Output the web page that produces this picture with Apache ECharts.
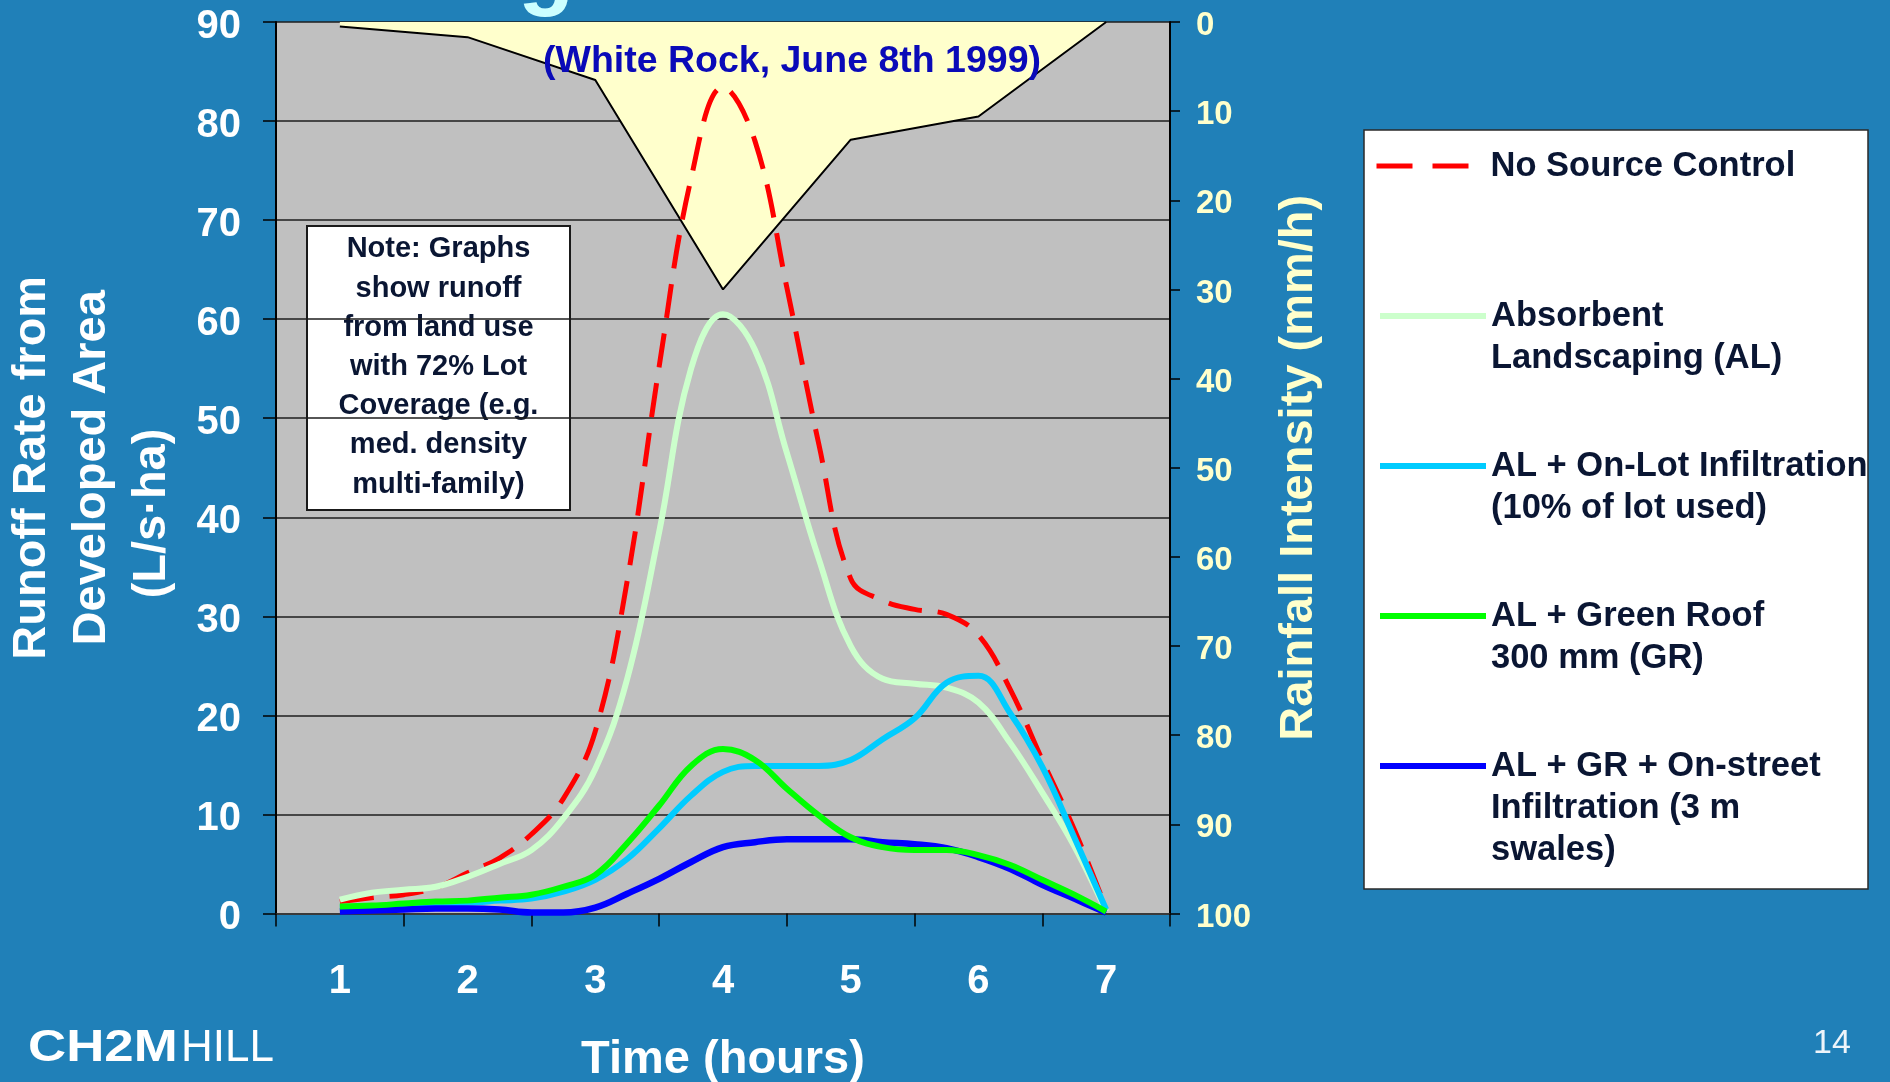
<!DOCTYPE html>
<html>
<head>
<meta charset="utf-8">
<script src="https://cdn.jsdelivr.net/npm/echarts@6/dist/echarts.min.js"></script>
<style>
html,body{margin:0;padding:0;background:#2080b8;}
#c{width:1890px;height:1082px;}
</style>
</head>
<body>
<div id="c"></div>
<script>
// ---------------- data ----------------
const hourLabels = ['1', '2', '3', '4', '5', '6', '7'];
const leftTicks = [0, 10, 20, 30, 40, 50, 60, 70, 80, 90];
const rightTicks = [0, 10, 20, 30, 40, 50, 60, 70, 80, 90, 100];

// time (hours) of the runoff samples
const times = [1, 1.25, 1.5, 1.75, 2, 2.25, 2.5, 2.75, 3, 3.25, 3.5, 3.75, 4,
               4.25, 4.5, 4.75, 5, 5.25, 5.5, 5.75, 6, 6.25, 6.5, 6.75, 7];

// runoff rate (L/s·ha)
const noSourceControl = [1.2, 1.6, 1.9, 2.6, 4.1, 5.6, 8.0, 11.6, 18.4, 33.6, 55.2, 74.2, 83.4,
                         78.0, 63.2, 47.4, 33.8, 31.6, 30.7, 30.2, 28.1, 22.6, 15.5, 8.5, 0.5];
const absorbentLandscaping = [1.4, 2.1, 2.4, 2.7, 3.7, 5.0, 6.4, 9.6, 14.6, 23.7, 38.5, 55.0, 60.5,
                              56.9, 46.5, 35.8, 27.0, 23.7, 23.2, 22.8, 21.3, 17.2, 12.2, 6.8, 0.2];
const onLotInfiltration = [0.6, 0.7, 0.9, 1.0, 1.1, 1.3, 1.5, 2.2, 3.4, 5.5, 8.6, 11.9, 14.3,
                           14.9, 14.9, 14.9, 15.5, 17.6, 19.7, 23.3, 24.0, 20.2, 14.8, 7.7, 0.4];
const greenRoof = [0.7, 0.8, 1.0, 1.2, 1.3, 1.6, 1.9, 2.7, 3.9, 7.1, 10.9, 14.9, 16.6,
                   15.5, 12.6, 9.9, 7.7, 6.7, 6.4, 6.4, 5.9, 4.9, 3.4, 1.9, 0.2];
const onStreetInfiltration = [0.2, 0.3, 0.4, 0.5, 0.5, 0.4, 0.1, 0.1, 0.6, 2.0, 3.5, 5.2, 6.7,
                              7.2, 7.5, 7.5, 7.5, 7.2, 7.0, 6.6, 5.7, 4.5, 2.9, 1.5, 0.1];

// rainfall intensity (mm/h), hourly
const rainTimes = [1, 2, 3, 4, 5, 6, 7];
const rainfall = [0.5, 1.7, 6.5, 30, 13.2, 10.6, 0];

const seriesNames = [
  'No Source Control',
  'Absorbent Landscaping (AL)',
  'AL + On-Lot Infiltration (10% of lot used)',
  'AL + Green Roof 300 mm (GR)',
  'AL + GR + On-street Infiltration (3 m swales)'
];
const legendLines = [
  ['No Source Control'],
  ['Absorbent', 'Landscaping (AL)'],
  ['AL + On-Lot Infiltration', '(10% of lot used)'],
  ['AL + Green Roof', '300 mm (GR)'],
  ['AL + GR + On-street', 'Infiltration (3 m', 'swales)']
];
const noteLines = ['Note: Graphs', 'show runoff', 'from land use', 'with 72% Lot',
                   'Coverage (e.g.', 'med. density', 'multi-family)'];

// ---------------- chart ----------------
const FONT = "'Liberation Sans', Arial, Helvetica, sans-serif";
const NAVY = '#0a1633';
const chart = echarts.init(document.getElementById('c'), null, {renderer: 'canvas'});

function pairs(xs, ys) { return xs.map((x, i) => [x, ys[i]]); }

function runoff(name, ys, color, width, dash, z) {
  return {
    name: name, type: 'line', xAxisIndex: 1, yAxisIndex: 0,
    data: pairs(times, ys), smooth: 0.4, symbol: 'none',
    lineStyle: {color: color, width: width, type: dash || 'solid', cap: 'butt'},
    itemStyle: {color: color}, z: z, silent: true
  };
}

const legendCenters = [166, 316, 466, 616, 766];
const LH = 42;
const legends = seriesNames.map((nm, i) => {
  const n = legendLines[i].length;
  const L = 2 * n - 1;
  return {
    data: [nm], orient: 'vertical',
    left: i === 0 ? 1374 : 1377,
    top: legendCenters[i] - L * LH / 2,
    padding: 0, itemGap: 0,
    itemWidth: i === 0 ? 109 : 106, itemHeight: 14,
    selectedMode: false,
    formatter: function () { return '\n'.repeat(n - 1) + legendLines[i].join('\n'); },
    textStyle: {color: NAVY, fontFamily: FONT, fontWeight: 'bold', fontSize: 34.5, lineHeight: LH},
    itemStyle: {opacity: 0},
    lineStyle: {width: i === 0 ? 5 : 6, type: i === 0 ? [36, 20] : 'solid'}
  };
});

const option = {
  backgroundColor: '#2080b8',
  animation: false,
  title: {
    text: '(White Rock, June 8th 1999)',
    left: 543, top: 43, padding: 0,
    textStyle: {color: '#0a0ab8', fontFamily: FONT, fontWeight: 'bold', fontSize: 37.5, lineHeight: 37},
    z: 20
  },
  legend: legends,
  grid: {
    left: 276, top: 22, width: 894, height: 891.5,
    show: true, backgroundColor: '#c0c0c0', borderWidth: 0,
    containLabel: false, outerBoundsMode: 'none'
  },
  xAxis: [
    {
      type: 'category', data: hourLabels, boundaryGap: true, position: 'bottom',
      name: 'Time (hours)', nameLocation: 'middle', nameGap: 123, nameMoveOverlap: false,
      nameTextStyle: {color: '#ffffff', fontFamily: FONT, fontWeight: 'bold', fontSize: 47, lineHeight: 47},
      axisLine: {show: true, lineStyle: {color: '#3a3a3a', width: 2}},
      axisTick: {show: true, interval: 0, alignWithLabel: false, length: 13, lineStyle: {color: '#000', width: 1.5}},
      axisLabel: {interval: 0, margin: 48, color: '#ffffff', fontFamily: FONT, fontWeight: 'bold', fontSize: 40},
      splitLine: {show: false}
    },
    {
      type: 'value', min: 0.5, max: 7.5, show: false,
      axisLine: {show: false}, axisTick: {show: false}, axisLabel: {show: false}, splitLine: {show: false}
    }
  ],
  yAxis: [
    {
      type: 'value', min: 0, max: 90, interval: 10, position: 'left',
      name: 'Runoff Rate from\nDeveloped Area\n(L/s\u00b7ha)' + '\u00a0'.repeat(7),
      nameLocation: 'middle', nameRotate: 90, nameGap: 94, nameMoveOverlap: false,
      nameTextStyle: {color: '#ffffff', fontFamily: FONT, fontWeight: 'bold', fontSize: 47, lineHeight: 60, align: 'center'},
      axisLine: {show: true, lineStyle: {color: '#000', width: 2}},
      axisTick: {show: true, length: 13, lineStyle: {color: '#000', width: 1.5}},
      axisLabel: {margin: 35, color: '#ffffff', fontFamily: FONT, fontWeight: 'bold', fontSize: 40,
                  verticalAlign: 'top', lineHeight: 9,
                  formatter: function (v) { return leftTicks.indexOf(v) >= 0 ? String(v) : ''; }},
      splitLine: {show: true, lineStyle: {color: '#1e1e1e', width: 1.5}}
    },
    {
      type: 'value', min: 0, max: 100, interval: 10, position: 'right', inverse: true,
      name: 'Rainfall Intensity (mm/h)',
      nameLocation: 'middle', nameRotate: 90, nameGap: 101, nameMoveOverlap: false,
      nameTextStyle: {color: '#ffffcc', fontFamily: FONT, fontWeight: 'bold', fontSize: 47, lineHeight: 56},
      axisLine: {show: true, lineStyle: {color: '#000', width: 2}},
      axisTick: {show: true, length: 10, lineStyle: {color: '#000', width: 1.5}},
      axisLabel: {margin: 26, color: '#ffffcc', fontFamily: FONT, fontWeight: 'bold', fontSize: 33,
                  verticalAlign: 'top', lineHeight: 8,
                  formatter: function (v) { return rightTicks.indexOf(v) >= 0 ? String(v) : ''; }},
      splitLine: {show: false}
    }
  ],
  series: [
    {
      name: 'Rainfall Intensity', type: 'line', xAxisIndex: 1, yAxisIndex: 1,
      data: pairs(rainTimes, rainfall), symbol: 'none', smooth: false,
      lineStyle: {color: '#000000', width: 2},
      areaStyle: {color: '#ffffcc', opacity: 1},
      z: 1, silent: true
    },
    runoff(seriesNames[0], noSourceControl, '#ff0000', 5, [34, 16], 2),
    runoff(seriesNames[1], absorbentLandscaping, '#ccffcc', 6, null, 3),
    runoff(seriesNames[2], onLotInfiltration, '#00ccff', 6, null, 4),
    runoff(seriesNames[4], onStreetInfiltration, '#0000ff', 6.5, null, 5),
    runoff(seriesNames[3], greenRoof, '#00ff00', 6, null, 6)
  ],
  graphic: [
    {
      type: 'rect', z: 0,
      shape: {x: 1364, y: 130, width: 504, height: 759},
      style: {fill: '#ffffff', stroke: '#2a2a2a', lineWidth: 1.5}
    },
    {
      type: 'group', z: 10,
      children: [
        {type: 'rect', shape: {x: 307, y: 226, width: 263, height: 284},
         style: {fill: '#ffffff', stroke: '#1a1a1a', lineWidth: 2}},
        {type: 'text', style: {
          text: noteLines.join('\n'), x: 438.5, y: 367,
          align: 'center', verticalAlign: 'middle',
          fill: NAVY, fontFamily: FONT, fontWeight: 'bold', fontSize: 29, lineHeight: 39.2
        }}
      ]
    },
    {
      type: 'text', z: 30,
      style: {
        text: 'g', x: 546, y: 19, align: 'center', verticalAlign: 'bottom',
        fill: '#ccffff', fontFamily: FONT, fontWeight: 'bold', fontSize: 92,
        textShadowColor: '#000000', textShadowOffsetX: 5, textShadowOffsetY: 5, textShadowBlur: 0
      }
    },
    {
      type: 'text', z: 30, x: 28, y: 1049, scaleX: 1.2,
      style: {
        text: 'CH2M', x: 0, y: 0, verticalAlign: 'middle',
        fill: '#ffffff', fontFamily: FONT, fontWeight: 'bold', fontSize: 44
      }
    },
    {
      type: 'text', z: 30,
      style: {
        text: 'HILL', x: 181, y: 1049, verticalAlign: 'middle',
        fill: '#ffffff', fontFamily: FONT, fontWeight: 'normal', fontSize: 44
      }
    },
    {
      type: 'text', z: 30,
      style: {
        text: '14', x: 1832, y: 1044, align: 'center', verticalAlign: 'middle',
        fill: '#eef4fa', fontFamily: "'Liberation Sans Narrow', 'Liberation Sans', Arial, sans-serif",
        fontWeight: 'normal', fontSize: 34
      }
    }
  ]
};

chart.setOption(option);
</script>
</body>
</html>
